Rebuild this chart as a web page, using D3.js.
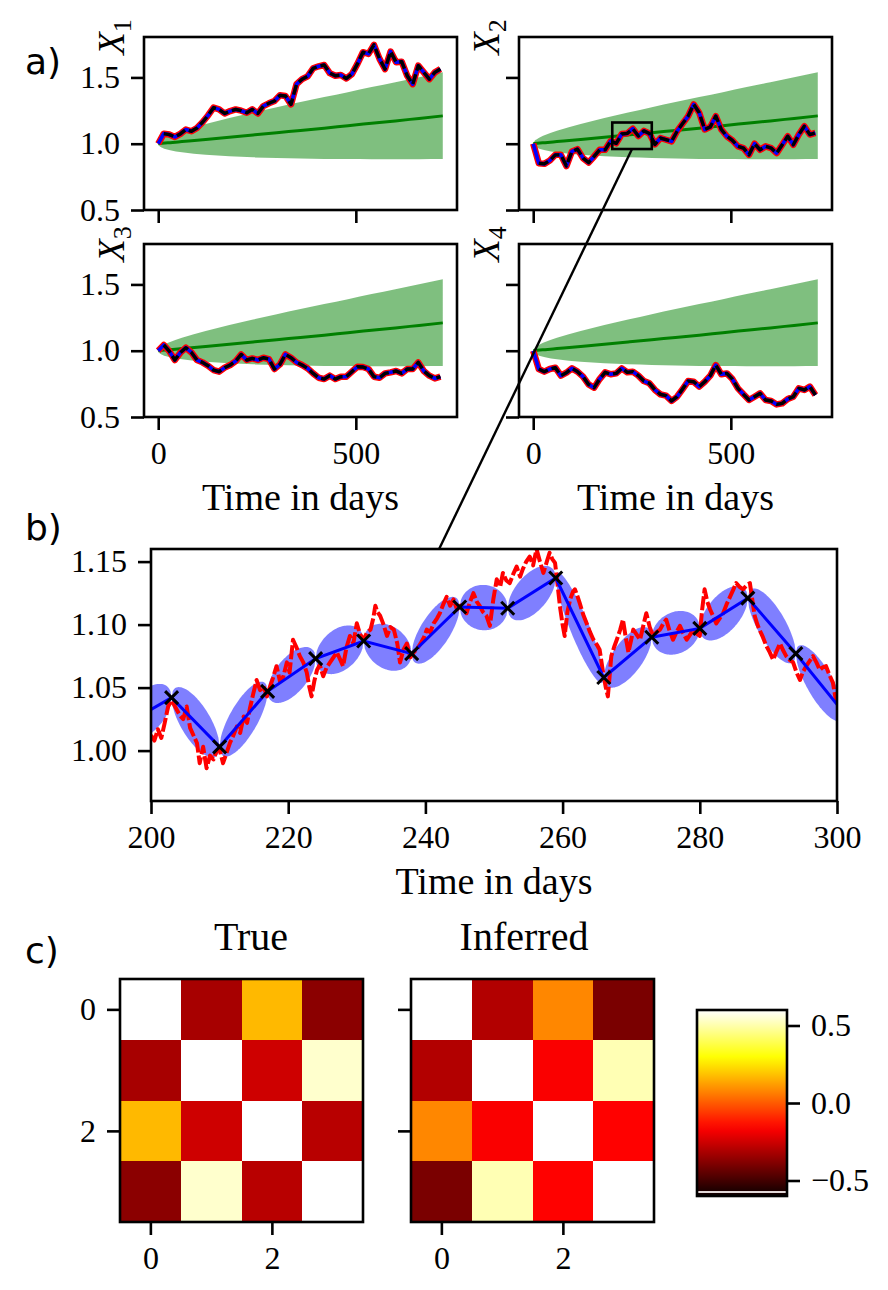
<!DOCTYPE html>
<html>
<head>
<meta charset="utf-8">
<script src="https://cdn.jsdelivr.net/npm/d3@7"></script>
<style>
  body { margin: 0; background: #fff; }
  svg { display: block; }
</style>
</head>
<body>
<div id="chart"></div>
<script>
// ---- data ----
// observation days for the four long series (every 14 days)
var obsDays = [0,14,28,42,56,70,84,98,112,126,140,154,168,182,196,210,224,238,252,266,280,294,308,322,336,350,
  364,378,392,406,420,434,448,462,476,490,504,518,532,546,560,574,588,602,616,630,644,658,672,686,700,714];
var x1Vals = [1.000,1.076,1.069,1.051,1.074,1.107,1.094,1.119,1.162,1.213,1.272,1.259,1.228,1.246,1.259,1.249,1.234,
  1.259,1.228,1.284,1.305,1.322,1.365,1.360,1.297,1.449,1.487,1.508,1.569,1.584,1.594,1.533,1.513,1.518,1.492,1.525,
  1.602,1.690,1.678,1.746,1.640,1.563,1.695,1.614,1.619,1.513,1.449,1.589,1.538,1.487,1.538,1.563];
var x2Vals = [1.000,0.853,0.848,0.873,0.916,0.916,0.832,0.942,0.959,0.891,0.858,0.904,0.954,0.954,1.020,1.003,1.073,
  1.078,1.113,1.058,1.097,1.077,0.995,1.043,1.030,1.018,1.094,1.152,1.208,1.297,1.234,1.107,1.127,1.208,1.107,1.056,
  1.025,0.980,0.967,0.916,1.000,0.954,0.980,0.967,0.929,0.992,1.056,0.992,1.069,1.132,1.069,1.081];
var x3Vals = [1.000,1.043,0.997,0.930,0.985,1.023,0.987,0.930,0.912,0.887,0.854,0.842,0.872,0.892,0.922,0.972,0.930,
  0.942,0.930,0.947,0.937,0.862,0.897,0.972,0.947,0.912,0.892,0.867,0.829,0.796,0.786,0.812,0.786,0.804,0.804,0.842,
  0.879,0.877,0.862,0.804,0.796,0.829,0.837,0.847,0.829,0.862,0.862,0.912,0.847,0.812,0.791,0.804];
var x4Vals = [1.000,0.862,0.842,0.862,0.872,0.812,0.834,0.867,0.842,0.804,0.746,0.721,0.786,0.837,0.822,0.829,0.867,
  0.837,0.842,0.812,0.771,0.754,0.704,0.671,0.661,0.621,0.653,0.711,0.771,0.766,0.729,0.766,0.812,0.892,0.822,0.829,
  0.786,0.716,0.671,0.628,0.653,0.678,0.628,0.621,0.595,0.603,0.636,0.653,0.716,0.704,0.729,0.666];

// prior band (green) shared by the four panels
var bandDays = [0,3,10,30,60,120,180,240,300,360,420,480,540,600,660,720];
var bandLow  = [1.000,0.983,0.970,0.951,0.935,0.916,0.905,0.897,0.892,0.888,0.885,0.884,0.883,0.883,0.883,0.884];
var bandHigh = [1.000,1.019,1.035,1.065,1.097,1.149,1.194,1.235,1.275,1.314,1.352,1.389,1.427,1.464,1.501,1.539];
var bandMid  = [1.000,1.001,1.003,1.008,1.016,1.032,1.049,1.066,1.083,1.100,1.117,1.136,1.154,1.172,1.191,1.210];

var topTicksX = [0, 500];
var topTicksY = [0.5, 1.0, 1.5];

// zoomed window of X2 (days 200-300)
var zoomObsDays = [196,203,210,217,224,231,238,245,252,259,266,273,280,287,294,301];
var zoomObsVals = [1.020,1.042,1.003,1.047,1.073,1.087,1.077,1.114,1.113,1.137,1.058,1.090,1.097,1.121,1.077,1.030];
var zoomBandHalf = [0.019,0.020,0.020,0.018,0.018,0.018,0.019,0.018,0.018,0.019,0.018,0.017,0.018,0.020,0.019];
var zoomTruePath = [
  [200.0,1.012],[200.5,1.008],[201.0,1.017],[201.5,1.010],[202.0,1.022],[202.5,1.035],[203.0,1.040],[203.7,1.033],
  [204.2,1.028],[204.7,1.025],[205.2,1.035],[205.7,1.018],[206.2,1.012],[206.7,1.006],[207.1,0.990],[207.6,1.003],
  [208.1,0.986],[208.6,0.996],[209.1,0.993],[209.6,1.000],[210.0,1.001],[210.5,0.990],[211.0,0.998],[211.5,1.006],
  [212.0,1.012],[212.5,1.019],[213.0,1.014],[213.5,1.027],[214.0,1.022],[214.4,1.033],[214.9,1.045],[215.4,1.056],
  [215.9,1.048],[216.4,1.051],[216.9,1.043],[217.3,1.050],[217.8,1.058],[218.3,1.067],[218.8,1.055],[219.3,1.059],
  [219.8,1.070],[220.2,1.062],[220.7,1.088],[221.2,1.082],[221.7,1.075],[222.2,1.070],[222.7,1.062],[223.1,1.050],
  [223.4,1.043],[223.8,1.055],[224.2,1.064],[224.6,1.068],[225.1,1.059],[225.6,1.066],[226.1,1.070],[226.6,1.074],
  [227.1,1.078],[227.6,1.072],[228.0,1.067],[228.5,1.082],[229.0,1.091],[229.5,1.085],[230.0,1.101],[230.5,1.092],
  [231.0,1.088],[231.5,1.094],[232.0,1.096],[232.4,1.105],[232.7,1.115],[233.0,1.110],[233.4,1.107],[233.9,1.100],
  [234.4,1.091],[234.9,1.098],[235.4,1.096],[235.9,1.085],[236.3,1.070],[236.8,1.080],[237.3,1.085],[237.8,1.074],
  [238.3,1.078],[238.8,1.081],[239.3,1.085],[239.8,1.090],[240.2,1.096],[240.7,1.094],[241.2,1.101],[241.7,1.105],
  [242.1,1.109],[242.6,1.116],[243.1,1.122],[243.6,1.115],[244.1,1.120],[244.6,1.112],[245.1,1.115],[245.6,1.112],
  [246.0,1.109],[246.5,1.118],[247.0,1.125],[247.5,1.118],[247.9,1.115],[248.4,1.110],[248.9,1.107],[249.4,1.099],
  [249.9,1.120],[250.4,1.136],[250.9,1.130],[251.3,1.141],[251.8,1.135],[252.3,1.133],[252.8,1.140],[253.3,1.146],
  [253.8,1.138],[254.2,1.144],[254.7,1.150],[255.2,1.154],[255.7,1.147],[256.2,1.160],[256.7,1.150],[257.2,1.141],
  [257.7,1.150],[258.1,1.157],[258.5,1.152],[258.9,1.149],[259.3,1.130],[259.6,1.115],[260.0,1.100],[260.3,1.091],
  [260.7,1.110],[261.1,1.120],[261.5,1.126],[261.8,1.128],[262.2,1.122],[262.5,1.117],[263.0,1.108],[263.5,1.101],
  [264.0,1.094],[264.5,1.088],[265.0,1.084],[265.4,1.080],[265.9,1.062],[266.3,1.050],[266.6,1.043],[267.1,1.075],
  [267.5,1.082],[267.9,1.088],[268.4,1.096],[268.8,1.104],[269.2,1.090],[269.6,1.078],[270.0,1.088],[270.3,1.096],
  [270.8,1.092],[271.3,1.088],[271.8,1.100],[272.2,1.109],[272.7,1.098],[273.2,1.091],[273.7,1.094],[274.2,1.096],
  [274.7,1.101],[275.1,1.104],[275.6,1.095],[276.1,1.088],[276.6,1.094],[277.1,1.099],[277.6,1.093],[278.1,1.088],
  [278.6,1.092],[279.0,1.096],[279.5,1.093],[280.0,1.091],[280.3,1.110],[280.7,1.128],[281.1,1.118],[281.5,1.112],
  [282.0,1.106],[282.4,1.101],[282.9,1.105],[283.4,1.109],[283.9,1.116],[284.4,1.122],[284.9,1.128],[285.3,1.133],
  [285.8,1.130],[286.3,1.128],[286.8,1.131],[287.3,1.133],[287.7,1.118],[288.0,1.107],[288.4,1.100],[288.7,1.096],
  [289.2,1.090],[289.7,1.083],[290.2,1.078],[290.7,1.072],[291.2,1.079],[291.7,1.085],[292.1,1.080],[292.6,1.075],
  [293.1,1.072],[293.6,1.070],[294.1,1.062],[294.6,1.056],[295.0,1.062],[295.5,1.067],[296.0,1.071],[296.5,1.075],
  [297.0,1.070],[297.5,1.064],[297.9,1.066],[298.4,1.067],[298.9,1.060],[299.4,1.054],[299.9,1.038]
];
var zoomTicksX = [200, 220, 240, 260, 280, 300];
var zoomTicksY = [1.00, 1.05, 1.10, 1.15];

// correlation matrices
var corrTrue = [
  [1, -0.32, 0.17, -0.37],
  [-0.32, 1, -0.25, 0.54],
  [0.17, -0.25, 1, -0.29],
  [-0.37, 0.54, -0.29, 1]
];
var corrInferred = [
  [1, -0.30, 0.08, -0.40],
  [-0.30, 1, -0.17, 0.51],
  [0.08, -0.17, 1, -0.16],
  [-0.40, 0.51, -0.16, 1]
];
var heatTicks = [0, 2];
var cbarTicks = [-0.5, 0.0, 0.5];

// ---- drawing ----
var W = 888, H = 1290;
var serif = '"Liberation Serif", "Times New Roman", serif';
var sans = '"DejaVu Sans", sans-serif';
var TICK = 13, PAD = 11, LW = 2.6, TICKFONT = 32, LABELFONT = 38;

var svg = d3.select('#chart').append('svg')
    .attr('width', W)
    .attr('height', H);
var defs = svg.append('defs');

function styleAxis(g) {
    g.select('.domain').remove();
    g.selectAll('.tick line').attr('stroke', '#000').attr('stroke-width', LW);
    g.selectAll('.tick text')
        .attr('font-family', serif)
        .attr('font-size', TICKFONT)
        .attr('fill', '#000');
}

function frame(g, w, h) {
    g.append('rect')
        .attr('width', w).attr('height', h)
        .attr('fill', 'none')
        .attr('stroke', '#000')
        .attr('stroke-width', LW);
}

function panelLabel(txt, x, y) {
    svg.append('text')
        .attr('x', x).attr('y', y)
        .attr('font-family', sans)
        .attr('font-size', 36)
        .text(txt);
}

// ---- panel a: four series ----
var PW = 313, PH = 173;
var xTop = d3.scaleLinear().domain([-36, 756]).range([0, PW]);
var yTop = d3.scaleLinear().domain([0.5, 1.805]).range([PH, 0]);

var topPanels = [
    { vals: x1Vals, sub: '1', left: 144, top: 37,  showX: false, showY: true },
    { vals: x2Vals, sub: '2', left: 519, top: 37,  showX: false, showY: false },
    { vals: x3Vals, sub: '3', left: 144, top: 244, showX: true,  showY: true },
    { vals: x4Vals, sub: '4', left: 519, top: 244, showX: true,  showY: false }
];

var bandArea = d3.area()
    .x(function(d, i) { return xTop(bandDays[i]); })
    .y0(function(d, i) { return yTop(bandLow[i]); })
    .y1(function(d, i) { return yTop(bandHigh[i]); })
    .curve(d3.curveMonotoneX);
var midLine = d3.line()
    .x(function(d, i) { return xTop(bandDays[i]); })
    .y(function(d) { return yTop(d); })
    .curve(d3.curveMonotoneX);
var seriesLine = d3.line()
    .x(function(d) { return xTop(d.t); })
    .y(function(d) { return yTop(d.v); });

topPanels.forEach(function(p, idx) {
    var g = svg.append('g').attr('transform', 'translate(' + p.left + ',' + p.top + ')');
    var clipId = 'clipTop' + idx;
    defs.append('clipPath').attr('id', clipId)
        .append('rect').attr('width', PW).attr('height', PH);
    var plot = g.append('g').attr('clip-path', 'url(#' + clipId + ')');

    plot.append('path').datum(bandMid)
        .attr('d', bandArea)
        .attr('fill', '#008000')
        .attr('fill-opacity', 0.5);
    plot.append('path').datum(bandMid)
        .attr('d', midLine)
        .attr('fill', 'none')
        .attr('stroke', '#008000')
        .attr('stroke-width', 3);

    var pts = obsDays.map(function(t, i) { return { t: t, v: p.vals[i] }; });
    plot.append('path').datum(pts)
        .attr('d', seriesLine)
        .attr('fill', 'none').attr('stroke', '#ff0000')
        .attr('stroke-width', 6.5).attr('stroke-linejoin', 'round');
    plot.append('path').datum(pts)
        .attr('d', seriesLine)
        .attr('fill', 'none').attr('stroke', '#0000ff')
        .attr('stroke-width', 3.6).attr('stroke-linejoin', 'round');
    plot.append('path').datum(pts.slice(1))
        .attr('d', seriesLine)
        .attr('fill', 'none').attr('stroke', '#000')
        .attr('stroke-width', 3.4).attr('stroke-dasharray', '10,4')
        .attr('stroke-linejoin', 'round');

    // zoom rectangle on X2
    if (idx === 1) {
        g.append('rect')
            .attr('x', xTop(zoomTicksX[0]))
            .attr('y', yTop(1.16))
            .attr('width', xTop(zoomTicksX[zoomTicksX.length - 1]) - xTop(zoomTicksX[0]))
            .attr('height', yTop(0.96) - yTop(1.16))
            .attr('fill', 'none')
            .attr('stroke', '#000')
            .attr('stroke-width', 2.6);
    }

    frame(g, PW, PH);

    var ax = g.append('g').attr('transform', 'translate(0,' + PH + ')')
        .call(d3.axisBottom(xTop).tickValues(topTicksX).tickSize(TICK).tickPadding(PAD)
            .tickFormat(p.showX ? d3.format('d') : function() { return ''; }));
    styleAxis(ax);
    var ay = g.append('g')
        .call(d3.axisLeft(yTop).tickValues(topTicksY).tickSize(TICK).tickPadding(PAD)
            .tickFormat(p.showY ? d3.format('.1f') : function() { return ''; }));
    styleAxis(ay);

    // rotated y label X_i at the top of the axis
    var yl = g.append('text')
        .attr('transform', 'translate(-20,0) rotate(-90)')
        .attr('text-anchor', 'middle')
        .attr('font-family', serif)
        .attr('font-size', 37);
    yl.append('tspan').attr('font-style', 'italic').text('X');
    yl.append('tspan').attr('font-size', 26).attr('dy', 7).text(p.sub);

    if (p.showX) {
        g.append('text')
            .attr('x', PW / 2).attr('y', PH + 93)
            .attr('text-anchor', 'middle')
            .attr('font-family', serif)
            .attr('font-size', LABELFONT)
            .text('Time in days');
    }
});

panelLabel('a)', 25, 74);

// ---- panel b: zoom on X2 ----
var BL = 151, BT = 549, BW = 686, BH = 252;
var xB = d3.scaleLinear().domain([200, 300]).range([0, BW]);
var yB = d3.scaleLinear().domain([0.96, 1.16]).range([BH, 0]);
var gb = svg.append('g').attr('transform', 'translate(' + BL + ',' + BT + ')');
defs.append('clipPath').attr('id', 'clipB')
    .append('rect').attr('width', BW).attr('height', BH);
var plotB = gb.append('g').attr('clip-path', 'url(#clipB)');

var bridgeArea = d3.area()
    .x(function(d) { return xB(d.t); })
    .y0(function(d) { return yB(d.m - d.h); })
    .y1(function(d) { return yB(d.m + d.h); });

zoomBandHalf.forEach(function(h, i) {
    var t0 = zoomObsDays[i], t1 = zoomObsDays[i + 1];
    var v0 = zoomObsVals[i], v1 = zoomObsVals[i + 1];
    var seg = d3.range(41).map(function(k) {
        var s = k / 40;
        return { t: t0 + s * (t1 - t0), m: v0 + s * (v1 - v0), h: h * 2 * Math.sqrt(s * (1 - s)) };
    });
    plotB.append('path').datum(seg)
        .attr('d', bridgeArea)
        .attr('fill', '#0000ff')
        .attr('fill-opacity', 0.5);
});

plotB.append('path').datum(zoomTruePath)
    .attr('d', d3.line().x(function(d) { return xB(d[0]); }).y(function(d) { return yB(d[1]); }))
    .attr('fill', 'none')
    .attr('stroke', '#ff0000')
    .attr('stroke-width', 4)
    .attr('stroke-dasharray', '14,3')
    .attr('stroke-linejoin', 'round');

var obsB = zoomObsDays.map(function(t, i) { return { t: t, v: zoomObsVals[i] }; });
plotB.append('path').datum(obsB)
    .attr('d', d3.line().x(function(d) { return xB(d.t); }).y(function(d) { return yB(d.v); }))
    .attr('fill', 'none')
    .attr('stroke', '#0000ff')
    .attr('stroke-width', 3);

plotB.selectAll('.mk')
    .data(obsB.filter(function(d) { return d.t >= 200 && d.t <= 300; }))
    .enter().append('path')
    .attr('class', 'mk')
    .attr('transform', function(d) { return 'translate(' + xB(d.t) + ',' + yB(d.v) + ')'; })
    .attr('d', 'M-6.5,-6.5L6.5,6.5M-6.5,6.5L6.5,-6.5')
    .attr('stroke', '#000')
    .attr('stroke-width', 3);

frame(gb, BW, BH);
var bx = gb.append('g').attr('transform', 'translate(0,' + BH + ')')
    .call(d3.axisBottom(xB).tickValues(zoomTicksX).tickSize(TICK).tickPadding(PAD).tickFormat(d3.format('d')));
styleAxis(bx);
var by = gb.append('g')
    .call(d3.axisLeft(yB).tickValues(zoomTicksY).tickSize(TICK).tickPadding(PAD).tickFormat(d3.format('.2f')));
styleAxis(by);
gb.append('text')
    .attr('x', BW / 2).attr('y', BH + 93)
    .attr('text-anchor', 'middle')
    .attr('font-family', serif)
    .attr('font-size', LABELFONT)
    .text('Time in days');

panelLabel('b)', 25, 540);

// ---- panel c: correlation heatmaps ----
var hot = d3.scaleLinear()
    .domain([-0.6, -0.1619, 0.2952, 0.6])
    .range(['#0b0000', '#ff0000', '#ffff00', '#ffffff'])
    .clamp(true);

var HS = 243;
var hs = d3.scaleLinear().domain([-0.5, 3.5]).range([0, HS]);
var heatmaps = [
    { data: corrTrue, title: 'True', left: 120, titleX: 131, showY: true },
    { data: corrInferred, title: 'Inferred', left: 411, titleX: 113, showY: false }
];

heatmaps.forEach(function(hm) {
    var g = svg.append('g').attr('transform', 'translate(' + hm.left + ',979)');
    var cells = [];
    hm.data.forEach(function(row, i) {
        row.forEach(function(v, j) { cells.push({ i: i, j: j, v: v }); });
    });
    g.selectAll('.cell').data(cells).enter().append('rect')
        .attr('class', 'cell')
        .attr('x', function(d) { return hs(d.j - 0.5); })
        .attr('y', function(d) { return hs(d.i - 0.5); })
        .attr('width', hs(0.5) - hs(-0.5))
        .attr('height', hs(0.5) - hs(-0.5))
        .attr('fill', function(d) { return hot(d.v); })
        .attr('shape-rendering', 'crispEdges');
    frame(g, HS, HS);
    var hx = g.append('g').attr('transform', 'translate(0,' + HS + ')')
        .call(d3.axisBottom(hs).tickValues(heatTicks).tickSize(TICK).tickPadding(PAD).tickFormat(d3.format('d')));
    styleAxis(hx);
    var hy = g.append('g')
        .call(d3.axisLeft(hs).tickValues(heatTicks).tickSize(TICK).tickPadding(PAD)
            .tickFormat(hm.showY ? d3.format('d') : function() { return ''; }));
    styleAxis(hy);
    g.append('text')
        .attr('x', hm.titleX).attr('y', -29)
        .attr('text-anchor', 'middle')
        .attr('font-family', serif)
        .attr('font-size', 40)
        .text(hm.title);
});

// colour bar
var CW = 90, CH = 186;
var yC = d3.scaleLinear().domain([-0.6, 0.6]).range([CH, 0]);
var grad = defs.append('linearGradient').attr('id', 'hotGrad')
    .attr('x1', 0).attr('y1', 1).attr('x2', 0).attr('y2', 0);
d3.range(0, 1.0001, 0.05).forEach(function(f) {
    grad.append('stop')
        .attr('offset', f)
        .attr('stop-color', hot(-0.6 + 1.2 * f));
});
var gc = svg.append('g').attr('transform', 'translate(697,1010)');
gc.append('rect').attr('width', CW).attr('height', CH).attr('fill', 'url(#hotGrad)');
gc.append('rect').attr('x', 0).attr('y', CH - 5).attr('width', CW).attr('height', 2).attr('fill', '#e2d8d8');
frame(gc, CW, CH);
var cax = gc.append('g').attr('transform', 'translate(' + CW + ',0)')
    .call(d3.axisRight(yC).tickValues(cbarTicks).tickSize(TICK).tickPadding(PAD).tickFormat(d3.format('.1f')));
styleAxis(cax);

panelLabel('c)', 25, 963);

// ---- connector from the X2 zoom box to panel b ----
var p2 = topPanels[1];
svg.append('line')
    .attr('x1', p2.left + xTop(250)).attr('y1', p2.top + yTop(0.96))
    .attr('x2', BL + xB(242)).attr('y2', BT + yB(1.16))
    .attr('stroke', '#000')
    .attr('stroke-width', 2.4);
</script>
</body>
</html>
